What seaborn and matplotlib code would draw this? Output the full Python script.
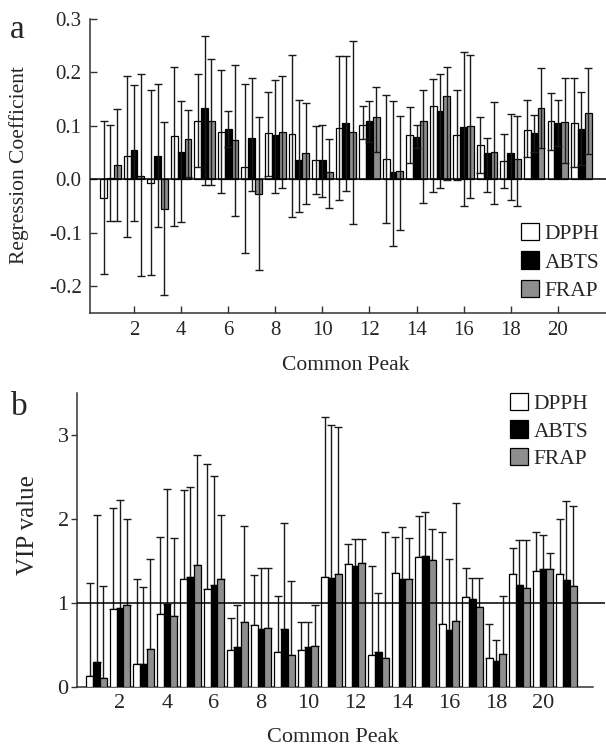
import numpy as np
import pandas as pd
import matplotlib
matplotlib.use("Agg")
import matplotlib.pyplot as plt
from matplotlib.patches import Patch
import seaborn as sns

peaks = list(range(1, 22))
assays = ["DPPH", "ABTS", "FRAP"]

# Panel a: regression coefficients with lower/upper error ends
a_dpph = [-0.035, 0.044, -0.007, 0.081, 0.110, 0.088, 0.023, 0.086, 0.085, 0.037, 0.097,
          0.102, 0.039, 0.083, 0.138, 0.083, 0.065, 0.035, 0.092, 0.110, 0.106]
a_dpph_lo = [-0.177, -0.107, -0.179, -0.087, 0.024, -0.026, -0.137, 0.006, -0.070, -0.028, -0.038,
             0.076, -0.081, 0.030, -0.024, -0.001, 0.012, -0.016, 0.042, 0.054, 0.023]
a_dpph_hi = [0.109, 0.193, 0.167, 0.210, 0.197, 0.205, 0.178, 0.164, 0.233, 0.100, 0.230,
             0.138, 0.157, 0.136, 0.188, 0.167, 0.116, 0.085, 0.148, 0.161, 0.189]
a_abts = [0.002, 0.055, 0.044, 0.052, 0.133, 0.094, 0.077, 0.083, 0.037, 0.036, 0.105,
          0.109, 0.014, 0.080, 0.127, 0.098, 0.049, 0.049, 0.086, 0.106, 0.095]
a_abts_lo = [-0.078, -0.077, -0.090, -0.080, -0.011, 0.060, -0.022, -0.025, -0.061, -0.033, -0.022,
             0.070, -0.124, 0.058, -0.016, -0.049, -0.024, -0.038, 0.051, 0.063, 0.026]
a_abts_hi = [0.101, 0.177, 0.178, 0.147, 0.269, 0.128, 0.190, 0.186, 0.149, 0.102, 0.230,
             0.147, 0.147, 0.101, 0.197, 0.239, 0.077, 0.123, 0.121, 0.148, 0.164]
a_frap = [0.026, 0.007, -0.056, 0.075, 0.109, 0.073, -0.027, 0.088, 0.050, 0.013, 0.088,
          0.117, 0.015, 0.109, 0.156, 0.100, 0.051, 0.038, 0.134, 0.108, 0.124]
a_frap_lo = [-0.078, -0.180, -0.217, 0.005, -0.011, -0.069, -0.170, -0.017, -0.047, -0.054, -0.083,
             0.052, -0.094, -0.045, -0.002, -0.035, -0.047, -0.050, 0.058, 0.030, 0.047]
a_frap_hi = [0.131, 0.198, 0.108, 0.129, 0.226, 0.214, 0.116, 0.194, 0.142, 0.076, 0.259,
             0.173, 0.118, 0.168, 0.210, 0.232, 0.144, 0.119, 0.208, 0.190, 0.208]

# Panel b: VIP values with upper error ends
b_dpph = [0.13, 0.93, 0.27, 0.87, 1.29, 1.17, 0.445, 0.735, 0.42, 0.44, 1.31,
          1.47, 0.38, 1.36, 1.55, 0.75, 1.07, 0.35, 1.35, 1.38, 1.35]
b_dpph_hi = [1.24, 2.13, 1.28, 1.79, 2.34, 2.65, 0.82, 1.33, 1.08, 0.77, 3.22,
             1.70, 1.44, 1.79, 2.04, 1.84, 1.42, 0.75, 1.66, 1.85, 2.00]
b_abts = [0.30, 0.935, 0.27, 0.99, 1.31, 1.21, 0.48, 0.69, 0.69, 0.48, 1.30,
          1.44, 0.42, 1.29, 1.56, 0.68, 1.05, 0.31, 1.22, 1.41, 1.27]
b_abts_hi = [2.05, 2.23, 1.19, 2.36, 2.38, 2.51, 0.975, 1.42, 1.95, 0.77, 3.12,
             1.76, 1.12, 1.90, 2.08, 1.52, 1.30, 0.56, 1.75, 1.81, 2.21]
b_frap = [0.11, 0.975, 0.45, 0.85, 1.45, 1.28, 0.77, 0.70, 0.386, 0.49, 1.35,
          1.475, 0.35, 1.29, 1.51, 0.78, 0.95, 0.39, 1.18, 1.40, 1.20]
b_frap_hi = [1.20, 2.00, 1.52, 1.77, 2.76, 2.05, 1.92, 1.42, 1.26, 0.975, 3.10,
             1.76, 1.85, 1.77, 1.88, 2.19, 1.30, 1.08, 1.75, 1.59, 2.16]

a_ticks_y = [-0.2, -0.1, 0.0, 0.1, 0.2, 0.3]
b_ticks_y = [0, 1, 2, 3]
x_ticks = [2, 4, 6, 8, 10, 12, 14, 16, 18, 20]

colors = {"DPPH": "#ffffff", "ABTS": "#000000", "FRAP": "#8e8e8e"}

sns.set_style("ticks")
plt.rcParams["font.family"] = ["Liberation Serif", "DejaVu Serif"]
plt.rcParams["axes.unicode_minus"] = False


def long_df(series):
    rows = []
    for name, vals in zip(assays, series):
        for p, v in zip(peaks, vals):
            rows.append({"peak": p, "assay": name, "value": v})
    return pd.DataFrame(rows)


W, H = 606, 749
fig = plt.figure(figsize=(W / 100, H / 100), dpi=100)

def px_axes(left, top, right, bottom):
    return fig.add_axes([left / W, 1 - bottom / H, (right - left) / W, (bottom - top) / H])

# ---------------- panel a ----------------
axa = px_axes(90, 19, 606, 313)
dfa = long_df([a_dpph, a_abts, a_frap])
sns.barplot(data=dfa, x="peak", y="value", hue="assay", hue_order=assays,
            palette=colors, native_scale=True, width=0.87, saturation=1,
            edgecolor="black", linewidth=0.9, errorbar=None, legend=False, ax=axa)
lows = [a_dpph_lo, a_abts_lo, a_frap_lo]
highs = [a_dpph_hi, a_abts_hi, a_frap_hi]
vals_a = [a_dpph, a_abts, a_frap]
for cont, v, lo, hi in zip(axa.containers, vals_a, lows, highs):
    xs = [b.get_x() + b.get_width() / 2 for b in cont]
    v = np.array(v); lo = np.array(lo); hi = np.array(hi)
    axa.errorbar(xs, v, yerr=[v - lo, hi - v], fmt="none", ecolor="#1a1a1a",
                 elinewidth=1.0, capsize=3, capthick=1.0, zorder=4)
axa.axhline(0, color="black", lw=1.1, zorder=5)
axa.set_xlim(0.13, 22.05)
axa.set_ylim(-0.25, 0.3)
axa.set_yticks(a_ticks_y)
axa.set_yticklabels([f"{t:.1f}" for t in a_ticks_y])
axa.set_xticks(x_ticks)
axa.set_xticklabels([str(t) for t in x_ticks])
axa.tick_params(direction="in", length=5, width=1, labelsize=15, pad=6, color="#333333")
for s in ["top", "right"]:
    axa.spines[s].set_visible(False)
for s in ["left", "bottom"]:
    axa.spines[s].set_linewidth(1.1)
    axa.spines[s].set_color("#333333")
axa.set_xlabel("Common Peak", fontsize=15.5)
axa.set_ylabel("Regression Coefficient", fontsize=15.5)
axa.xaxis.set_label_coords(0.496, -0.145)
axa.yaxis.set_label_coords(-0.118, 0.503)
handles = [Patch(facecolor=colors[a], edgecolor="black", linewidth=0.9, label=a) for a in assays]
axa.legend(handles=handles, loc="upper left", bbox_to_anchor=(0.835, 0.305), frameon=False,
           fontsize=15.5, handlelength=0.85, handleheight=0.85, handletextpad=0.25,
           labelspacing=0.33, borderpad=0, borderaxespad=0)
fig.text(10 / W, 1 - 38 / H, "a", fontsize=24, va="baseline", ha="left")

# ---------------- panel b ----------------
axb = px_axes(77, 393, 605, 687)
dfb = long_df([b_dpph, b_abts, b_frap])
sns.barplot(data=dfb, x="peak", y="value", hue="assay", hue_order=assays,
            palette=colors, native_scale=True, width=0.87, saturation=1,
            edgecolor="black", linewidth=0.9, errorbar=None, legend=False, ax=axb,
            zorder=3)
vals_b = [b_dpph, b_abts, b_frap]
highs_b = [b_dpph_hi, b_abts_hi, b_frap_hi]
for cont, v, hi in zip(axb.containers, vals_b, highs_b):
    xs = [b.get_x() + b.get_width() / 2 for b in cont]
    v = np.array(v); hi = np.array(hi)
    axb.errorbar(xs, v, yerr=[np.zeros_like(v), hi - v], fmt="none", ecolor="#1a1a1a",
                 elinewidth=1.0, capsize=3, capthick=1.0, zorder=2)
axb.axhline(1, color="black", lw=1.1, zorder=5)
axb.set_xlim(0.17, 22.64)
axb.set_ylim(0, 3.5)
axb.spines["bottom"].set_bounds(0.17, 22.13)
axb.set_yticks(b_ticks_y)
axb.set_yticklabels([str(t) for t in b_ticks_y])
axb.set_xticks(x_ticks)
axb.set_xticklabels([str(t) for t in x_ticks])
axb.tick_params(axis="y", direction="out", length=4, width=1, labelsize=16, pad=2, color="#333333")
axb.tick_params(axis="x", length=0, labelsize=16, pad=5)
for s in ["top", "right"]:
    axb.spines[s].set_visible(False)
for s in ["left", "bottom"]:
    axb.spines[s].set_linewidth(1.1)
    axb.spines[s].set_color("#333333")
axb.set_xlabel("Common Peak", fontsize=16)
axb.set_ylabel("VIP value", fontsize=18)
axb.xaxis.set_label_coords(0.485, -0.14)
axb.yaxis.set_label_coords(-0.072, 0.55)
handles_b = [Patch(facecolor=colors[a], edgecolor="black", linewidth=0.9, label=a) for a in assays]
axb.legend(handles=handles_b, loc="upper left", bbox_to_anchor=(0.82, 1.0), frameon=False,
           fontsize=15.5, handlelength=0.85, handleheight=0.85, handletextpad=0.25,
           labelspacing=0.3, borderpad=0, borderaxespad=0)
fig.text(11 / W, 1 - 415 / H, "b", fontsize=24, va="baseline", ha="left")

fig.savefig("out.png", dpi=100)
